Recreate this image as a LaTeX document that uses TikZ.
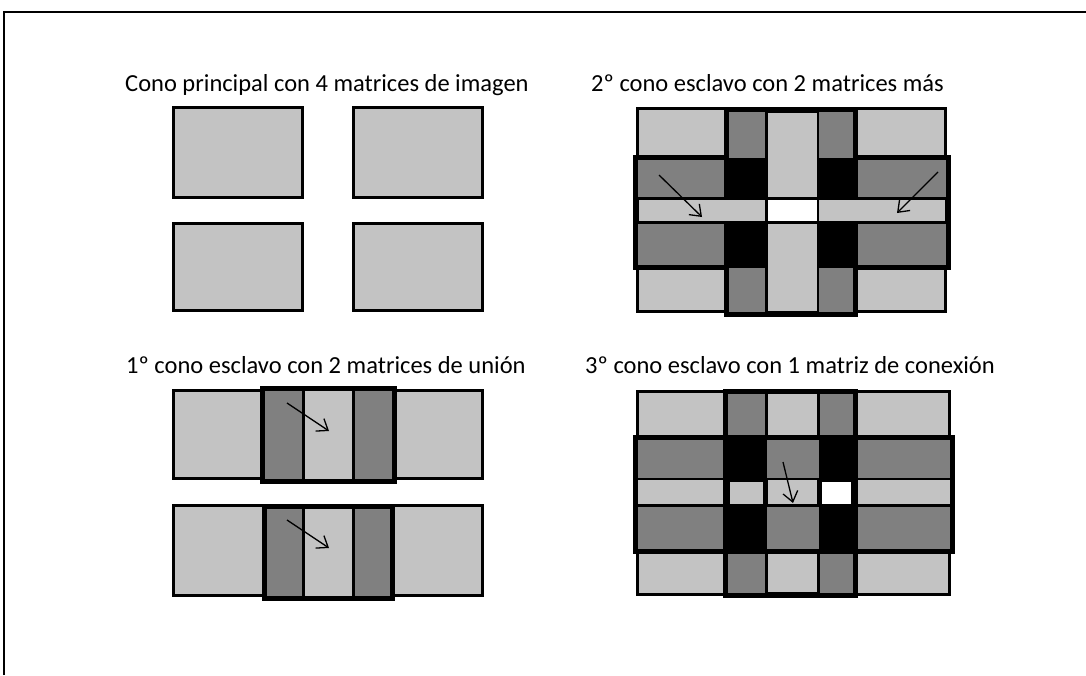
\documentclass[tikz,border=0pt]{standalone}
\usepackage{fontspec}
\setmainfont{Carlito}
\usetikzlibrary{arrows.meta}
\definecolor{lg}{RGB}{195,195,195}
\definecolor{dg}{RGB}{128,128,128}
\tikzset{
  imgbox/.style={fill=lg,draw=black,line width=3pt},
  band/.style={fill=dg,draw=black,line width=5pt},
  bandline/.style={draw=black,line width=5pt},
  cell/.style={fill=lg,draw=black,line width=2.5pt},
  blk/.style={fill=black},
  arr/.style={draw=black,line width=1.3pt,-{Straight Barb[length=10pt,width=15pt]}},
  lbl/.style={inner sep=0pt,anchor=base west,font=\fontsize{24.5}{28}\selectfont},
  frame/.style={draw=black,line width=2pt}
}
\begin{document}
\begin{tikzpicture}[x=1pt,y=-1pt]
\useasboundingbox (0,0) rectangle (1086,675);
% frame
\coordinate (f1) at (4,675);
\coordinate (f2) at (4,12);
\coordinate (f3) at (1086,12);
\draw[frame] (f1) -- (f2) -- (f3);

% titles
\node[lbl] (t1) at (125,91) {Cono principal con 4 matrices de imagen};
\node[lbl] (t2) at (591,91) {2º cono esclavo con 2 matrices más};
\node[lbl] (t3) at (126,373) {1º cono esclavo con 2 matrices de unión};
\node[lbl] (t4) at (585,373) {3º cono esclavo con 1 matriz de conexión};

% ---------- panel 1 ----------
\draw[imgbox] (173.5,107) rectangle (302.5,197);
\draw[imgbox] (353.5,107) rectangle (482.5,197);
\draw[imgbox] (173.5,223) rectangle (302.5,310);
\draw[imgbox] (353.5,223) rectangle (482.5,310);

% ---------- panel 2 ----------
\draw[imgbox] (637.5,108.5) rectangle (945.5,311.5);
\draw[band] (635.5,157.5) rectangle (948,267.5);
\draw[band] (726.5,109) rectangle (855.5,314.5);
\fill[blk] (726.5,157.5) rectangle (766.5,198.5);
\fill[blk] (818,157.5) rectangle (855.5,198.5);
\fill[blk] (726.5,222.5) rectangle (766.5,267.5);
\fill[blk] (818,222.5) rectangle (855.5,267.5);
\draw[cell] (766.5,111.5) rectangle (818,198.5);
\draw[cell] (766.5,222.5) rectangle (818,312);
\draw[cell] (638,198.5) rectangle (766.5,222.5);
\draw[cell] (818,198.5) rectangle (946,222.5);
\draw[cell,fill=white] (766.5,198.5) rectangle (818,222.5);
\coordinate (a2s) at (659,175);
\coordinate (a2e) at (702,217);
\coordinate (b2s) at (938,172);
\coordinate (b2e) at (897,213);
\draw[arr] (a2s) -- (a2e);
\draw[arr] (b2s) -- (b2e);

% ---------- panel 3 ----------
\draw[imgbox] (173.5,390) rectangle (482,478.5);
\draw[band] (262.5,388) rectangle (394.5,481);
\draw[cell] (303.5,388) rectangle (353.5,481);
\draw[bandline] (262.5,388) rectangle (394.5,481);
\draw[imgbox] (173.5,505) rectangle (482,595);
\draw[band] (264.5,506) rectangle (392,598);
\draw[cell] (303.5,506) rectangle (353.5,598);
\draw[bandline] (264.5,506) rectangle (392,598);
\coordinate (a3s) at (287,403);
\coordinate (a3e) at (329,431);
\coordinate (b3s) at (287,520);
\coordinate (b3e) at (329,548);
\draw[arr] (a3s) -- (a3e);
\draw[arr] (b3s) -- (b3e);

% ---------- panel 4 ----------
\draw[imgbox] (637,391) rectangle (949,594);
\draw[band] (635.5,437.5) rectangle (952,551.5);
\draw[band] (725.5,391.5) rectangle (855.5,595.5);
\fill[blk] (725.5,437.5) rectangle (766.5,551.5);
\fill[blk] (818.5,437.5) rectangle (855.5,551.5);
\draw[cell] (766.5,393) rectangle (818.5,437.5);
\draw[cell] (766.5,479) rectangle (818.5,505.5);
\draw[cell] (766.5,551.5) rectangle (818.5,593);
\draw[cell] (637,479) rectangle (725.5,505.5);
\draw[cell] (855.5,479) rectangle (951,505.5);
\fill[lg] (730,482) rectangle (763,503.5);
\fill[white] (822,482) rectangle (851,503.5);
\draw[bandline] (635.5,437.5) rectangle (952,551.5);
\draw[bandline] (725.5,391.5) rectangle (855.5,595.5);
\coordinate (a4s) at (783,462);
\coordinate (a4e) at (793,503);
\draw[arr] (a4s) -- (a4e);
\end{tikzpicture}
\end{document}
